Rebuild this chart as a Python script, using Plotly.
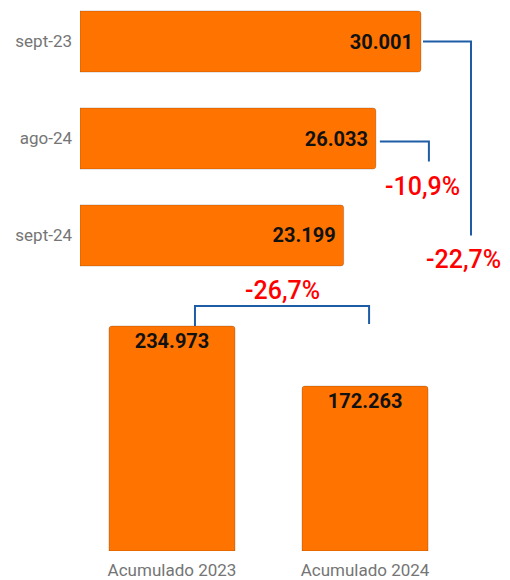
import plotly.graph_objects as go

# ---- data ----
month_labels = ["sept-23", "ago-24", "sept-24"]
month_values = [30001, 26033, 23199]
acc_labels = ["Acumulado 2023", "Acumulado 2024"]
acc_values = [234973, 172263]

ORANGE = "#FF7400"
BLUE = "#1F5CA6"
RED = "#FF0000"
GRAY = "#757575"
W, H = 510, 580


def fmt_num(v):
    return f"{v:,}".replace(",", ".")


def fmt_pct(a, b):
    p = (b - a) / a * 100
    return f"{p:.1f}%".replace(".", ",")


fig = go.Figure()

fig.add_trace(go.Bar(
    y=month_labels, x=month_values, orientation="h",
    xaxis="x", yaxis="y",
    width=0.63,
    marker=dict(color=ORANGE, line=dict(color="rgba(0,0,0,0.18)", width=1), cornerradius=3),
    text=[fmt_num(v) + "\u00a0" for v in month_values],
    textposition="inside", insidetextanchor="end",
    textfont=dict(family="Roboto", size=20, color="#111111", weight="bold"),
    hoverinfo="skip",
))

fig.add_trace(go.Bar(
    x=acc_labels, y=acc_values,
    xaxis="x2", yaxis="y2",
    width=0.653,
    marker=dict(color=ORANGE, line=dict(color="rgba(0,0,0,0.18)", width=1), cornerradius=3),
    text=[fmt_num(v) for v in acc_values],
    textposition="inside", insidetextanchor="end",
    textfont=dict(family="Roboto", size=20, color="#111111", weight="bold"),
    hoverinfo="skip",
))

mmax = max(month_values)
xmax = mmax * 430 / 341
u = mmax / 341.0  # data units per pixel on top axis

amax = max(acc_values)
ymax2 = amax * 269 / 225
v = amax / 225.0  # data units per pixel on bottom axis

line = dict(color=BLUE, width=2)
shapes = []
# sept-23 -> sept-24 bracket
bx1 = mmax + 50 * u
shapes.append(dict(type="path", xref="x", yref="y",
                   path=f"M {month_values[0] + 2*u},{0} L {bx1},{0} L {bx1},{2}",
                   line=line))
# ago-24 -> sept-24 bracket
bx2 = month_values[1] + 53 * u
shapes.append(dict(type="path", xref="x", yref="y",
                   path=f"M {month_values[1] + 4*u},{1.03} L {bx2},{1.03} L {bx2},{1.237}",
                   line=line))
# bottom bracket
ytop = amax + 20 * v
shapes.append(dict(type="path", xref="x2", yref="y2",
                   path=f"M 0.119,{amax} L 0.119,{ytop} L 1.021,{ytop} L 1.021,{acc_values[1] + 62*v}",
                   line=line))

pct_font = dict(family="Roboto", size=25, color=RED, weight=500)
annotations = [
    dict(xref="x", yref="y", x=bx2 - 6 * u, y=1.49, text=fmt_pct(month_values[1], month_values[2]),
         showarrow=False, font=pct_font, xanchor="center", yanchor="middle"),
    dict(xref="x", yref="y", x=bx1 - 8 * u, y=2.25, text=fmt_pct(month_values[0], month_values[2]),
         showarrow=False, font=pct_font, xanchor="center", yanchor="middle"),
    dict(xref="x2", yref="y2", x=0.57, y=amax + 36 * v, text=fmt_pct(acc_values[0], acc_values[1]),
         showarrow=False, font=pct_font, xanchor="center", yanchor="middle"),
]

fig.update_layout(
    width=W, height=H,
    margin=dict(l=0, r=0, t=0, b=0),
    paper_bgcolor="white", plot_bgcolor="white",
    showlegend=False,
    font=dict(family="Roboto", color=GRAY),
    xaxis=dict(domain=[80 / W, 1], range=[0, xmax], visible=False, fixedrange=True),
    yaxis=dict(domain=[1 - 280 / H, 1], type="category", range=[2.459, -0.428],
               showgrid=False, zeroline=False, showline=False, ticks="",
               tickfont=dict(family="Roboto", size=17, color=GRAY), ticklabelstandoff=7),
    xaxis2=dict(domain=[0, 1], type="category", range=[-0.891, 1.751], anchor="y2",
                showgrid=False, zeroline=False, showline=False, ticks="",
                tickfont=dict(family="Roboto", size=17, color=GRAY), ticklabelstandoff=7),
    yaxis2=dict(domain=[1 - 551 / H, 1 - 282 / H], range=[0, ymax2], anchor="x2",
                visible=False),
    shapes=shapes,
    annotations=annotations,
)

fig.write_html("out.html")
